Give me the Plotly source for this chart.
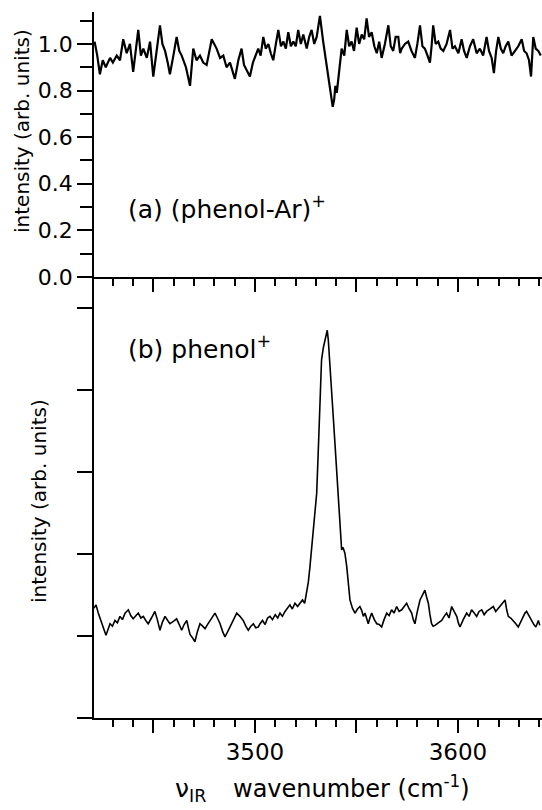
import plotly.graph_objects as go

# ---------------- data ----------------
wn_a = [3421.0, 3422.3, 3423.6, 3425.0, 3426.5, 3428.6, 3430.0, 3431.9, 3433.5, 3435.1,
        3436.8, 3438.4, 3440.0, 3441.2, 3442.5, 3443.8, 3445.0, 3446.7, 3448.3, 3449.9,
        3451.5, 3453.2, 3454.4, 3455.7, 3457.0, 3458.1, 3459.8, 3461.4, 3462.7, 3463.9,
        3466.0, 3468.0, 3469.6, 3471.2, 3472.9, 3474.5, 3476.2, 3477.4, 3478.7, 3481.1,
        3482.8, 3484.4, 3486.0, 3487.7, 3488.9, 3490.1, 3491.8, 3493.4, 3494.6, 3495.9,
        3497.5, 3499.0, 3500.0, 3501.6, 3502.8, 3504.1, 3505.3, 3506.6, 3507.8, 3509.0,
        3510.3, 3511.5, 3512.8, 3514.0, 3515.2, 3516.4, 3517.7, 3518.9, 3520.1, 3521.3,
        3522.6, 3523.8, 3525.5, 3526.7, 3527.9, 3529.2, 3530.4, 3532.0, 3533.6, 3535.3,
        3536.9, 3537.6, 3538.3, 3539.0, 3539.6, 3540.3, 3541.2, 3542.0, 3542.7, 3544.0,
        3545.2, 3546.4, 3547.6, 3548.8, 3550.1, 3551.3, 3552.6, 3553.8, 3555.0, 3556.2,
        3557.5, 3558.8, 3560.0, 3561.2, 3562.4, 3564.0, 3565.7, 3566.9, 3568.1, 3569.3,
        3570.6, 3571.5, 3572.3, 3573.9, 3575.5, 3577.1, 3578.8, 3580.0, 3581.3, 3582.5,
        3583.7, 3585.0, 3586.2, 3587.0, 3587.8, 3589.0, 3590.3, 3591.5, 3592.8, 3594.4,
        3596.1, 3597.3, 3598.5, 3600.2, 3601.8, 3603.0, 3604.3, 3605.9, 3607.5, 3609.2,
        3610.8, 3612.4, 3614.1, 3615.3, 3616.6, 3617.7, 3618.8, 3619.9, 3621.1, 3622.3,
        3623.5, 3624.8, 3626.4, 3628.1, 3629.7, 3631.4, 3632.6, 3633.8, 3635.0, 3636.0,
        3637.1, 3638.3, 3639.6, 3640.8]
int_a = [1.01, 0.95, 0.87, 0.93, 0.90, 0.94, 0.92, 0.95, 0.93, 1.02,
         0.96, 1.00, 0.88, 0.97, 1.06, 0.95, 0.98, 0.94, 1.01, 0.86,
         0.97, 1.08, 1.00, 0.97, 0.92, 0.87, 0.95, 1.03, 0.97, 0.95,
         0.90, 0.82, 0.98, 0.93, 0.95, 0.92, 0.91, 0.96, 1.02, 0.98,
         0.94, 0.95, 0.90, 0.92, 0.88, 0.85, 0.93, 0.98, 0.91, 0.89,
         0.86, 0.92, 0.94, 0.98, 0.95, 1.03, 0.98, 1.00, 0.96, 0.93,
         1.00, 1.06, 0.99, 1.01, 0.98, 1.05, 0.99, 1.01, 0.99, 1.06,
         1.00, 1.04, 0.98, 1.03, 1.06, 1.00, 1.03, 1.12, 1.01, 0.91,
         0.815, 0.77, 0.73, 0.76, 0.82, 0.79, 0.86, 0.93, 0.98, 0.95,
         1.06, 0.99, 1.01, 0.97, 1.07, 1.00, 1.04, 1.02, 1.11, 1.03,
         1.05, 0.99, 0.96, 1.01, 0.94, 1.00, 1.08, 0.99, 0.97, 1.03,
         1.03, 0.96, 0.98, 1.00, 1.01, 0.97, 0.94, 1.00, 1.08, 0.99,
         0.98, 0.95, 0.92, 0.99, 1.08, 1.00, 1.01, 0.98, 0.97, 1.00,
         1.06, 0.98, 0.99, 0.96, 1.02, 0.97, 0.94, 0.99, 1.02, 0.96,
         0.98, 0.95, 1.03, 0.97, 0.94, 0.875, 0.97, 1.03, 0.98, 0.96,
         0.99, 1.01, 0.95, 0.97, 0.99, 1.02, 0.97, 0.96, 0.93, 0.86,
         1.03, 0.98, 0.97, 0.95]

wn_b = [3420.7, 3421.7, 3422.8, 3424.5, 3425.6, 3426.6, 3427.6, 3428.6, 3429.8, 3431.0,
        3432.2, 3433.5, 3434.7, 3436.0, 3437.6, 3438.8, 3440.0, 3441.2, 3442.5, 3443.8,
        3445.0, 3446.2, 3447.4, 3449.0, 3450.7, 3451.9, 3453.2, 3454.4, 3455.7, 3457.0,
        3458.1, 3459.8, 3461.4, 3462.7, 3463.9, 3465.1, 3466.4, 3467.2, 3468.0, 3469.2,
        3470.4, 3471.6, 3472.9, 3474.2, 3475.4, 3476.6, 3477.8, 3479.0, 3480.3, 3481.5,
        3482.8, 3484.0, 3485.2, 3486.5, 3487.7, 3489.3, 3491.0, 3492.6, 3494.2, 3495.5,
        3496.7, 3498.0, 3499.2, 3500.4, 3501.6, 3502.5, 3503.7, 3505.0, 3506.2, 3507.4,
        3508.6, 3510.0, 3511.2, 3512.3, 3513.5, 3514.8, 3516.0, 3517.2, 3518.4, 3519.7,
        3521.0, 3522.2, 3523.4, 3524.5, 3525.5, 3526.3, 3527.1, 3527.9, 3528.7, 3529.5,
        3530.4, 3531.2, 3532.0, 3532.8, 3533.7, 3534.5, 3535.2, 3535.6, 3536.1, 3536.6,
        3537.2, 3537.8, 3538.6, 3539.4, 3540.0, 3540.6, 3541.2, 3541.9, 3542.7, 3543.4,
        3544.3, 3545.2, 3546.0, 3546.8, 3548.0, 3549.3, 3550.5, 3551.7, 3552.6, 3553.4,
        3554.2, 3555.0, 3555.8, 3556.6, 3557.5, 3558.8, 3560.0, 3561.2, 3562.4, 3563.6,
        3564.9, 3566.1, 3567.3, 3568.5, 3569.8, 3571.0, 3572.3, 3573.5, 3574.7, 3576.0,
        3577.2, 3578.0, 3578.8, 3580.0, 3581.3, 3582.5, 3583.7, 3584.5, 3585.4, 3586.2,
        3587.0, 3587.8, 3588.7, 3590.3, 3592.0, 3593.2, 3594.4, 3595.6, 3596.9, 3598.1,
        3599.4, 3600.2, 3601.0, 3602.6, 3604.3, 3605.5, 3606.7, 3608.0, 3609.2, 3610.4,
        3611.7, 3612.9, 3614.1, 3615.8, 3617.4, 3618.6, 3619.9, 3621.5, 3623.2, 3624.0,
        3624.8, 3626.0, 3627.2, 3628.5, 3629.7, 3631.0, 3632.2, 3633.0, 3633.8, 3635.0,
        3636.3, 3637.4, 3638.4, 3639.6, 3640.3]
int_b = [1.34, 1.38, 1.28, 1.17, 1.08, 1.01, 1.08, 1.15, 1.12, 1.19,
         1.16, 1.24, 1.20, 1.28, 1.32, 1.25, 1.21, 1.25, 1.28, 1.22,
         1.24, 1.19, 1.15, 1.22, 1.30, 1.20, 1.07, 1.17, 1.24, 1.19,
         1.15, 1.18, 1.21, 1.14, 1.07, 1.14, 1.19, 1.10, 1.02, 0.98,
         0.93, 1.05, 1.15, 1.12, 1.09, 1.14, 1.19, 1.23, 1.28, 1.22,
         1.15, 1.06, 0.99, 1.05, 1.11, 1.20, 1.28, 1.24, 1.19, 1.12,
         1.07, 1.12, 1.15, 1.10, 1.11, 1.15, 1.19, 1.14, 1.22, 1.24,
         1.20, 1.26, 1.22, 1.28, 1.24, 1.30, 1.34, 1.38, 1.33, 1.40,
         1.36, 1.40, 1.44, 1.40, 1.52, 1.66, 1.85, 2.05, 2.25, 2.48,
         2.74, 3.27, 3.88, 4.37, 4.52, 4.61, 4.68, 4.73, 4.62, 4.45,
         4.20, 3.96, 3.66, 3.35, 3.10, 2.86, 2.60, 2.33, 2.05, 2.08,
         2.01, 1.85, 1.64, 1.44, 1.34, 1.28, 1.33, 1.36, 1.31, 1.24,
         1.28, 1.20, 1.15, 1.22, 1.28, 1.20, 1.15, 1.14, 1.11, 1.20,
         1.28, 1.25, 1.32, 1.28, 1.36, 1.30, 1.32, 1.36, 1.40, 1.33,
         1.28, 1.20, 1.15, 1.30, 1.44, 1.50, 1.56, 1.48, 1.40, 1.26,
         1.15, 1.12, 1.13, 1.16, 1.19, 1.24, 1.28, 1.22, 1.36, 1.30,
         1.24, 1.16, 1.11, 1.20, 1.28, 1.24, 1.32, 1.28, 1.24, 1.30,
         1.32, 1.26, 1.30, 1.33, 1.36, 1.30, 1.34, 1.38, 1.44, 1.32,
         1.24, 1.22, 1.19, 1.15, 1.11, 1.18, 1.24, 1.28, 1.30, 1.24,
         1.19, 1.14, 1.11, 1.19, 1.13]

x_major = [3450, 3500, 3550, 3600]
x_major_text = ["", "3500", "", "3600"]
ya_ticks = [0.0, 0.2, 0.4, 0.6, 0.8, 1.0]
yb_ticks = [0, 1, 2, 3, 4, 5]

# ---------------- figure ----------------
W, H = 542, 810
ML, MR, MT, MB = 94, 0, 12, 92
split = (718 - 277) / (H - MT - MB)
FONT = "DejaVu Sans"

fig = go.Figure()
fig.add_trace(go.Scatter(x=wn_a, y=int_a, mode="lines", xaxis="x", yaxis="y",
                         line=dict(color="black", width=2.2), showlegend=False))
fig.add_trace(go.Scatter(x=wn_b, y=int_b, mode="lines", xaxis="x2", yaxis="y2",
                         line=dict(color="black", width=1.6), showlegend=False))

xr = [3420.7, 3641.4]
common_x = dict(range=xr, showline=True, linecolor="black", linewidth=1.5, showgrid=False,
                zeroline=False, ticks="outside", tickvals=x_major, ticklen=13, tickwidth=1.5,
                tickcolor="black",
                minor=dict(ticks="outside", ticklen=7, tickwidth=1.5, tickcolor="black",
                           tick0=3420, dtick=10, showgrid=False))
fig.update_layout(
    width=W, height=H, margin=dict(l=ML, r=MR, t=MT, b=MB),
    paper_bgcolor="white", plot_bgcolor="white",
    font=dict(family=FONT, color="black"),
    xaxis=dict(common_x, anchor="y", showticklabels=False),
    xaxis2=dict(common_x, anchor="y2", ticktext=x_major_text, showticklabels=True,
                tickfont=dict(size=23, family=FONT, color="black")),
    yaxis=dict(domain=[split, 1], range=[0, 1.137], showline=True, linecolor="black",
               linewidth=1.5, showgrid=False, zeroline=False, ticks="outside",
               tickvals=ya_ticks, tickformat=".1f", ticklen=15, tickwidth=1.5,
               tickcolor="black", tickfont=dict(size=22, family=FONT, color="black"),
               minor=dict(ticks="outside", ticklen=12, tickwidth=1.5, tickcolor="black",
                          tick0=0, dtick=0.1, showgrid=False)),
    yaxis2=dict(domain=[0, split], range=[0, 5.38], showline=True, linecolor="black",
                linewidth=1.5, showgrid=False, zeroline=False, ticks="outside",
                tickvals=yb_ticks, showticklabels=False, ticklen=15, tickwidth=1.5,
                tickcolor="black"),
)

PH = H - MT - MB
PW = W - ML - MR
def px2x(px):
    return (px - ML) / PW
def py2y(py):
    return (H - MB - py) / PH

ann = []
ann.append(dict(text="intensity (arb. units)", x=px2x(22), y=py2y(131), textangle=-90,
                font=dict(size=20, family=FONT)))
ann.append(dict(text="intensity (arb. units)", x=px2x(39), y=py2y(501), textangle=-90,
                font=dict(size=20, family=FONT)))
ann.append(dict(text="(a) (phenol-Ar)<sup>+</sup>", x=px2x(126), y=py2y(207), xanchor="left",
                font=dict(size=25, family=FONT)))
ann.append(dict(text="(b) phenol<sup>+</sup>", x=px2x(126), y=py2y(347), xanchor="left",
                font=dict(size=25, family=FONT)))
ann.append(dict(text="ν<sub>IR</sub>", x=px2x(173), y=py2y(790), xanchor="left",
                font=dict(size=25, family=FONT)))
ann.append(dict(text="wavenumber (cm<sup>-1</sup>)", x=px2x(231), y=py2y(787), xanchor="left",
                font=dict(size=24, family=FONT)))
for a in ann:
    a.update(xref="paper", yref="paper", showarrow=False)
    a.setdefault("xanchor", "center")
    a.setdefault("yanchor", "middle")
fig.update_layout(annotations=ann)

fig.write_html("out.html")
